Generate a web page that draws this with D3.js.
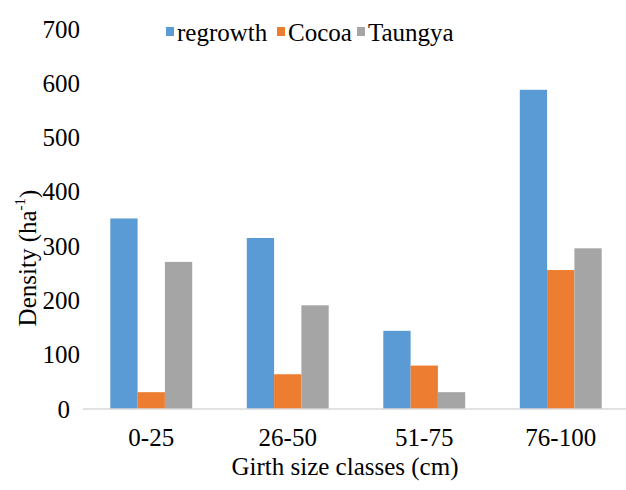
<!DOCTYPE html>
<html>
<head>
<meta charset="utf-8">
<script src="https://cdn.jsdelivr.net/npm/d3@7"></script>
<style>
  html, body { margin: 0; padding: 0; background: #fff; }
  svg text { font-family: "Liberation Serif", "Times New Roman", serif !important; }
</style>
</head>
<body>
<svg id="chart" width="626" height="490"></svg>
<script>
// Stand density by girth size class for three land-use types
const categories = ["0-25", "26-50", "51-75", "76-100"];
const seriesNames = ["regrowth", "Cocoa", "Taungya"];
const regrowth = [351, 315, 144, 588];
const cocoa = [31, 64, 80, 256];
const taungya = [271, 191, 31, 296];
const yTicks = [0, 100, 200, 300, 400, 500, 600, 700];
const colors = ["#5b9bd5", "#ed7d31", "#a5a5a5"];

const seriesValues = [regrowth, cocoa, taungya];
const rows = categories.map((c, i) => ({
  category: c,
  values: seriesNames.map((s, j) => ({ series: s, value: seriesValues[j][i] }))
}));

const svg = d3.select("#chart");
const fontSize = 25;
const serif = "'Liberation Serif', 'Times New Roman', serif";

const y = d3.scaleLinear().domain([0, 700]).range([409, 29]);
const x0 = d3.scaleBand().domain(categories).range([83, 629])
  .paddingInner(0.4).paddingOuter(0.2);
const x1 = d3.scaleBand().domain(seriesNames).range([0, x0.bandwidth()]);
const color = d3.scaleOrdinal().domain(seriesNames).range(colors);

// Bars
svg.append("g")
  .selectAll("g")
  .data(rows)
  .join("g")
  .attr("transform", d => `translate(${x0(d.category)},0)`)
  .selectAll("rect")
  .data(d => d.values)
  .join("rect")
  .attr("x", d => x1(d.series))
  .attr("y", d => y(d.value))
  .attr("width", x1.bandwidth())
  .attr("height", d => y(0) - y(d.value))
  .attr("fill", d => color(d.series));

// Baseline
svg.append("line")
  .attr("x1", 83).attr("x2", 626)
  .attr("y1", y(0)).attr("y2", y(0))
  .attr("stroke", "#d9d9d9").attr("stroke-width", 1.5);

// Y axis labels
const yAxis = svg.append("g")
  .attr("transform", "translate(83,0)")
  .call(d3.axisLeft(y).tickValues(yTicks).tickSize(0).tickPadding(3));
yAxis.attr("font-family", null).attr("font-size", null);
yAxis.select(".domain").remove();
yAxis.selectAll("text")
  .style("font-family", serif)
  .style("font-size", fontSize + "px")
  .attr("fill", "#000");
// the zero label sits a little further left than the others
yAxis.selectAll(".tick text")
  .filter(function () { return this.textContent === "0"; })
  .attr("x", -13);

// X axis labels
const xAxis = svg.append("g")
  .attr("transform", `translate(0,${y(0)})`)
  .call(d3.axisBottom(x0).tickSize(0).tickPadding(19));
xAxis.attr("font-family", null).attr("font-size", null);
xAxis.select(".domain").remove();
xAxis.selectAll("text")
  .style("font-family", serif)
  .style("font-size", fontSize + "px")
  .attr("fill", "#000");

// Axis titles
svg.append("text")
  .attr("x", 345).attr("y", 475)
  .attr("text-anchor", "middle")
  .style("font-family", serif)
  .style("font-size", fontSize + "px")
  .attr("fill", "#000")
  .text("Girth size classes (cm)");

const yTitle = svg.append("text")
  .attr("transform", "translate(27,258) rotate(-90)")
  .attr("text-anchor", "middle")
  .attr("dy", "0.35em")
  .style("font-family", serif)
  .style("font-size", fontSize + "px")
  .attr("fill", "#000");
yTitle.append("tspan").text("Density (ha");
yTitle.append("tspan").style("font-size", "15px").attr("dy", "-0.7em").text("-1");
yTitle.append("tspan").attr("dy", "0.45em").text(")");

// Legend
const legendX = [166, 277, 357];
const legend = svg.append("g")
  .selectAll("g")
  .data(seriesNames)
  .join("g")
  .attr("transform", (d, i) => `translate(${legendX[i]},32)`);
legend.append("rect")
  .attr("x", 0).attr("y", -5)
  .attr("width", 8).attr("height", 9)
  .attr("fill", d => color(d));
legend.append("text")
  .attr("x", 11).attr("dy", "0.35em")
  .style("font-family", serif)
  .style("font-size", fontSize + "px")
  .attr("fill", "#000")
  .text(d => d);
</script>
</body>
</html>
